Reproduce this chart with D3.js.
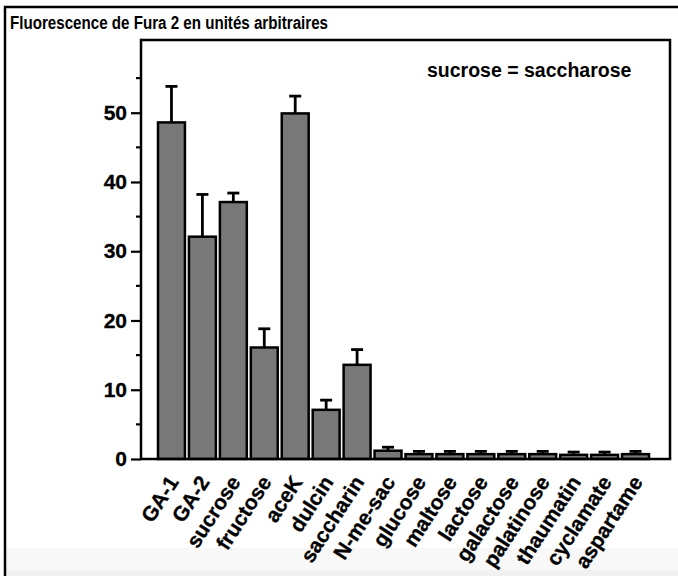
<!DOCTYPE html>
<html>
<head>
<meta charset="utf-8">
<script src="https://cdn.jsdelivr.net/npm/d3@7"></script>
<style>
  html, body { margin: 0; padding: 0; background: #fff; }
  svg { display: block; font-family: "Liberation Sans", Arial, Helvetica, sans-serif; font-weight: bold; }
</style>
</head>
<body>
<svg id="chart" width="678" height="576"></svg>
<script>
// Fura-2 fluorescence response per sweetener (arbitrary units)
const categories = ["GA-1", "GA-2", "sucrose", "fructose", "aceK", "dulcin", "saccharin", "N-me-sac",
  "glucose", "maltose", "lactose", "galactose", "palatinose", "thaumatin", "cyclamate", "aspartame"];
const values = [48.6, 32.1, 37.1, 16.1, 49.9, 7.1, 13.6, 1.2, 0.7, 0.7, 0.7, 0.7, 0.7, 0.6, 0.6, 0.7];
const errors = [5.2, 6.1, 1.3, 2.7, 2.5, 1.4, 2.2, 0.5, 0.4, 0.4, 0.4, 0.4, 0.4, 0.4, 0.4, 0.4];
const majorTicks = [0, 10, 20, 30, 40, 50];
const minorTicks = [5, 15, 25, 35, 45, 55];
const title = "Fluorescence de Fura 2 en unités arbitraires";
const note = "sucrose = saccharose";

const svg = d3.select("#chart");

// page frame: faint strip at the bottom, rules on the left and top
svg.append("rect").attr("x", 6).attr("y", 548).attr("width", 672).attr("height", 28).attr("fill", "#f8f8f8");
svg.append("rect").attr("x", 6).attr("y", 570).attr("width", 672).attr("height", 6).attr("fill", "#f1f1f1");
svg.append("line").attr("x1", 5).attr("x2", 5).attr("y1", 6).attr("y2", 576)
  .attr("stroke", "#000").attr("stroke-width", 2.5);
svg.append("line").attr("x1", 4).attr("x2", 678).attr("y1", 7).attr("y2", 7)
  .attr("stroke", "#000").attr("stroke-width", 2.5);

// condensed bold heading
svg.append("text").attr("x", 10).attr("y", 29).attr("font-size", 17.5).attr("fill", "#000")
  .attr("textLength", 318).attr("lengthAdjust", "spacingAndGlyphs").text(title);

const plot = { left: 141, right: 670, top: 40, bottom: 459 };

const y = d3.scaleLinear().domain([0, 60.5]).range([plot.bottom, plot.top]);
const x = d3.scaleBand().domain(categories).range([156, 651]).paddingInner(0.13).paddingOuter(0.065);

// plot frame (top and right)
svg.append("path")
  .attr("d", `M${plot.left},${plot.top}H${plot.right}V${plot.bottom}`)
  .attr("fill", "none").attr("stroke", "#000").attr("stroke-width", 2.5);

svg.append("text").attr("x", 427).attr("y", 77).attr("font-size", 19.5).attr("fill", "#000").text(note);

const data = categories.map((c, i) => ({ c, v: values[i], e: errors[i] }));

// error bars (upper half only)
const eb = svg.append("g").attr("stroke", "#000").attr("stroke-width", 2.8);
eb.selectAll("line.stem").data(data).join("line").attr("class", "stem")
  .attr("x1", d => x(d.c) + x.bandwidth() / 2).attr("x2", d => x(d.c) + x.bandwidth() / 2)
  .attr("y1", d => y(d.v)).attr("y2", d => y(d.v + d.e));
eb.selectAll("line.cap").data(data).join("line").attr("class", "cap")
  .attr("x1", d => x(d.c) + x.bandwidth() / 2 - 6).attr("x2", d => x(d.c) + x.bandwidth() / 2 + 6)
  .attr("y1", d => y(d.v + d.e)).attr("y2", d => y(d.v + d.e));

// bars
svg.append("g").selectAll("rect").data(data).join("rect")
  .attr("x", d => x(d.c)).attr("width", x.bandwidth())
  .attr("y", d => y(d.v)).attr("height", d => y(0) - y(d.v))
  .attr("fill", "#787878").attr("stroke", "#000").attr("stroke-width", 2.5);

// y axis
const yAxis = svg.append("g").attr("transform", `translate(${plot.left},0)`);
yAxis.call(d3.axisLeft(y).tickValues(majorTicks).tickSize(10).tickPadding(4).tickFormat(d3.format("d")));
yAxis.select(".domain").remove();
yAxis.selectAll(".tick line").attr("stroke", "#000").attr("stroke-width", 2.2);
yAxis.selectAll(".tick text").attr("font-size", 21).attr("font-family", "Liberation Sans, Arial, sans-serif")
  .attr("font-weight", "bold").attr("fill", "#000").attr("stroke", "#000").attr("stroke-width", 0.3);
yAxis.selectAll("line.minor").data(minorTicks).join("line").attr("class", "minor")
  .attr("x1", -5).attr("x2", 0).attr("y1", d => y(d)).attr("y2", d => y(d))
  .attr("stroke", "#000").attr("stroke-width", 2.2);
svg.append("line").attr("x1", plot.left).attr("x2", plot.left).attr("y1", plot.top - 1.2).attr("y2", plot.bottom)
  .attr("stroke", "#000").attr("stroke-width", 2.5);

// x axis baseline and steeply rotated category labels
svg.append("line").attr("x1", plot.left).attr("x2", plot.right + 1.2).attr("y1", plot.bottom).attr("y2", plot.bottom)
  .attr("stroke", "#000").attr("stroke-width", 2.5);
const xAxis = svg.append("g").attr("transform", `translate(0,${plot.bottom})`);
xAxis.call(d3.axisBottom(x).tickSize(0).tickPadding(0));
xAxis.select(".domain").remove();
xAxis.selectAll(".tick text")
  .attr("font-size", 21).attr("font-family", "Liberation Sans, Arial, sans-serif").attr("font-weight", "bold")
  .attr("fill", "#000").attr("stroke", "#000").attr("stroke-width", 0.3)
  .attr("text-anchor", "end").attr("dy", null).attr("y", 0)
  .attr("transform", "translate(8,23) rotate(-57)");
</script>
</body>
</html>
